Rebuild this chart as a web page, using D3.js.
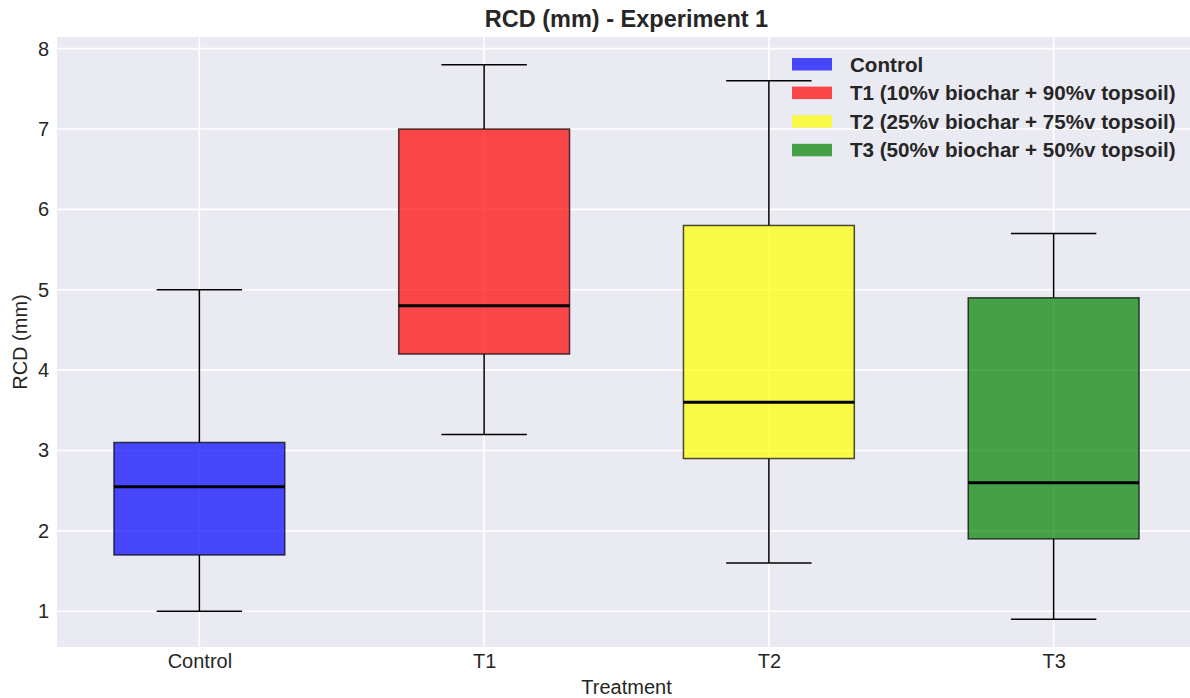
<!DOCTYPE html>
<html>
<head>
<meta charset="utf-8">
<script src="https://cdn.jsdelivr.net/npm/d3@7"></script>
<style>
  html, body { margin: 0; padding: 0; background: #ffffff; overflow: hidden; }
  svg { display: block; font-family: "Liberation Sans", Arial, sans-serif; }
</style>
</head>
<body>
<svg id="chart" width="1190" height="698"></svg>
<script>
// ---- Data ----
const categories = ["Control", "T1", "T2", "T3"];
const whiskerLow  = [1.0, 3.2, 1.6, 0.9];
const q1Values    = [1.7, 4.2, 2.9, 1.9];
const medians     = [2.55, 4.8, 3.6, 2.6];
const q3Values    = [3.1, 7.0, 5.8, 4.9];
const whiskerHigh = [5.0, 7.8, 7.6, 5.7];
const boxColors   = ["#0000ff", "#ff0000", "#ffff00", "#008000"];
const legendLabels = [
  "Control",
  "T1 (10%v biochar + 90%v topsoil)",
  "T2 (25%v biochar + 75%v topsoil)",
  "T3 (50%v biochar + 50%v topsoil)"
];
const yTicks = [1, 2, 3, 4, 5, 6, 7, 8];

// ---- Layout ----
const svg = d3.select("#chart");
const W = 1190, H = 698;
const margin = {left: 57, top: 37, bottom: 51};
const plotW = 1139;               // axes extend slightly beyond the right edge
const plotH = H - margin.top - margin.bottom;

const positions = categories.map((c, i) => i + 1);
const x = d3.scaleLinear().domain([0.5, 4.5]).range([margin.left, margin.left + plotW]);
const allVals = whiskerLow.concat(whiskerHigh);
const vmin = d3.min(allVals), vmax = d3.max(allVals);
const pad = (vmax - vmin) * 0.05;
const y = d3.scaleLinear().domain([vmin - pad, vmax + pad]).range([margin.top + plotH, margin.top]);

// background
svg.append("rect")
  .attr("x", margin.left).attr("y", margin.top)
  .attr("width", plotW).attr("height", plotH)
  .attr("fill", "#eaeaf2");

// grid
const grid = svg.append("g");
grid.selectAll("line.h").data(yTicks).join("line")
  .attr("x1", margin.left).attr("x2", margin.left + plotW)
  .attr("y1", d => y(d)).attr("y2", d => y(d))
  .attr("stroke", "#ffffff").attr("stroke-width", 1.6);
grid.selectAll("line.v").data(positions).join("line")
  .attr("x1", d => x(d)).attr("x2", d => x(d))
  .attr("y1", margin.top).attr("y2", margin.top + plotH)
  .attr("stroke", "#ffffff").attr("stroke-width", 1.6);

// axes (labels only)
const yAxis = d3.axisLeft(y).tickValues(yTicks).tickSize(0).tickPadding(8).tickFormat(d3.format("d"));
const gy = svg.append("g").attr("transform", `translate(${margin.left},0)`).call(yAxis);
gy.select(".domain").remove();
gy.selectAll("text").attr("font-size", 20).attr("fill", "#262626").attr("font-family", "Liberation Sans, Arial, sans-serif");

const xAxis = d3.axisBottom(x).tickValues(positions).tickSize(0).tickPadding(7)
  .tickFormat((d, i) => categories[i]);
const gx = svg.append("g").attr("transform", `translate(0,${margin.top + plotH})`).call(xAxis);
gx.select(".domain").remove();
gx.selectAll("text").attr("font-size", 20).attr("fill", "#262626").attr("font-family", "Liberation Sans, Arial, sans-serif");

// boxes
const boxW = 0.6, capW = 0.3;
const boxes = svg.append("g");
categories.forEach((c, i) => {
  const p = positions[i];
  const g = boxes.append("g");
  g.append("line").attr("x1", x(p)).attr("x2", x(p))
    .attr("y1", y(q1Values[i])).attr("y2", y(whiskerLow[i]))
    .attr("stroke", "#000").attr("stroke-width", 1.5);
  g.append("line").attr("x1", x(p)).attr("x2", x(p))
    .attr("y1", y(q3Values[i])).attr("y2", y(whiskerHigh[i]))
    .attr("stroke", "#000").attr("stroke-width", 1.5);
  g.append("line").attr("x1", x(p - capW / 2)).attr("x2", x(p + capW / 2))
    .attr("y1", y(whiskerLow[i])).attr("y2", y(whiskerLow[i]))
    .attr("stroke", "#000").attr("stroke-width", 1.5);
  g.append("line").attr("x1", x(p - capW / 2)).attr("x2", x(p + capW / 2))
    .attr("y1", y(whiskerHigh[i])).attr("y2", y(whiskerHigh[i]))
    .attr("stroke", "#000").attr("stroke-width", 1.5);
  g.append("rect")
    .attr("x", x(p - boxW / 2)).attr("width", x(p + boxW / 2) - x(p - boxW / 2))
    .attr("y", y(q3Values[i])).attr("height", y(q1Values[i]) - y(q3Values[i]))
    .attr("fill", boxColors[i]).attr("fill-opacity", 0.7)
    .attr("stroke", "#000").attr("stroke-opacity", 0.7).attr("stroke-width", 1.5);
  g.append("line").attr("x1", x(p - boxW / 2)).attr("x2", x(p + boxW / 2))
    .attr("y1", y(medians[i])).attr("y2", y(medians[i]))
    .attr("stroke", "#000").attr("stroke-width", 3);
});

// title and axis labels
const centerX = (margin.left + margin.left + plotW) / 2;
svg.append("text")
  .attr("x", centerX).attr("y", 27)
  .attr("text-anchor", "middle").attr("font-size", 23.5).attr("font-weight", "bold")
  .attr("fill", "#262626").text("RCD (mm) - Experiment 1");
svg.append("text")
  .attr("x", centerX).attr("y", 694)
  .attr("text-anchor", "middle").attr("font-size", 20)
  .attr("fill", "#262626").text("Treatment");
svg.append("text")
  .attr("transform", `translate(27,${margin.top + plotH / 2}) rotate(-90)`)
  .attr("text-anchor", "middle").attr("font-size", 20)
  .attr("fill", "#262626").text("RCD (mm)");

// legend
const legend = svg.append("g").attr("transform", "translate(792,58)");
legendLabels.forEach((lab, i) => {
  const gy0 = i * 28.6;
  legend.append("rect").attr("x", 0).attr("y", gy0).attr("width", 40).attr("height", 12.5)
    .attr("fill", boxColors[i]).attr("fill-opacity", 0.7);
  legend.append("text").attr("x", 58).attr("y", gy0 + 6.25).attr("dy", "0.36em")
    .attr("font-size", 20.6).attr("font-weight", "bold").attr("fill", "#262626").text(lab);
});
</script>
</body>
</html>
